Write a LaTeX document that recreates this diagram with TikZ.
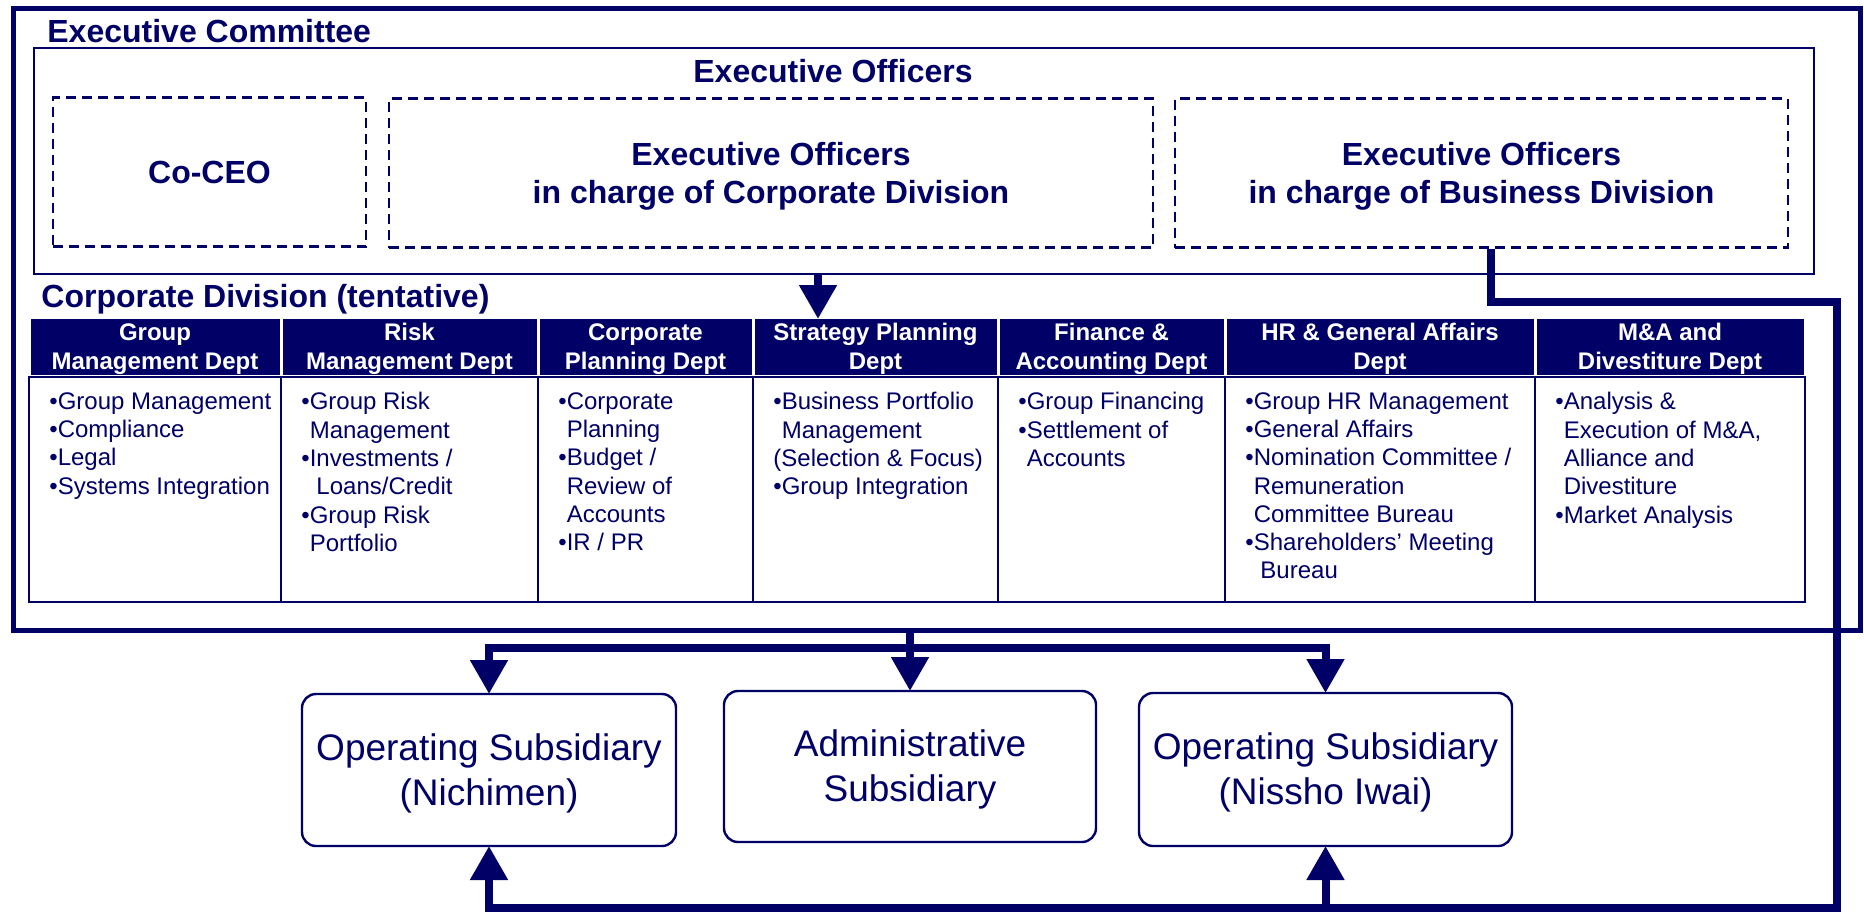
\documentclass[tikz,border=0pt]{standalone}
\usepackage{fontspec}
\setmainfont{Liberation Sans}
\usepackage{tikz}
\usetikzlibrary{arrows.meta,positioning}
\definecolor{navy}{RGB}{0,0,102}
\tikzstyle{outerbox}=[
	draw=navy,
	line width=2.5pt,
	inner sep=0pt,
	outer sep=0pt
]
\tikzstyle{innerbox}=[
	draw=navy,
	line width=1pt,
	inner sep=0pt,
	outer sep=0pt
]
\tikzstyle{heading}=[
	text=navy,
	inner sep=0pt,
	font=\bfseries\fontsize{16pt}{19pt}\selectfont
]
\tikzstyle{dashbox}=[
	heading,
	draw=navy,
	line width=1.1pt,
	dash pattern=on 5pt off 3pt,
	minimum height=74.5pt,
	align=center
]
\tikzstyle{depthead}=[
	fill=navy,
	text=white,
	inner sep=0pt,
	outer sep=0pt,
	minimum height=28pt,
	align=center,
	font=\bfseries\fontsize{12pt}{14.5pt}\selectfont
]
\tikzstyle{deptbody}=[
	draw=navy,
	line width=1.2pt,
	inner sep=0pt,
	outer sep=0pt,
	minimum height=112.5pt
]
\tikzstyle{deptlist}=[
	anchor=north west,
	text=navy,
	inner sep=0pt,
	align=left,
	font=\fontsize{12pt}{14.15pt}\selectfont
]
\tikzstyle{subbox}=[
	draw=navy,
	text=navy,
	line width=1.2pt,
	rounded corners=7pt,
	inner sep=0pt,
	outer sep=0pt,
	align=center,
	font=\fontsize{18.5pt}{22.5pt}\selectfont
]
\tikzstyle{wire}=[
	draw=navy,
	line width=4pt
]
\tikzstyle{link}=[
	wire,
	-{Triangle[length=17pt,width=18pt]}
]
\newcommand{\ind}{\phantom{•}}
% full line height for the first and last line of a centred box
\newcommand{\up}{\rule{0pt}{0.9em}}
\newcommand{\dn}{\rule[-0.21em]{0pt}{0pt}}

\begin{document}
\begin{tikzpicture}[x=0.5pt,y=-0.5pt]
\useasboundingbox (0,0) rectangle (1864,912);

% executive committee
\node[outerbox, minimum width=923.5pt, minimum height=311pt] (committee) at (936.5,319) {};
\node[heading, anchor=base west] (committeelabel) at (47,42) {Executive Committee};
\node[innerbox, minimum width=890pt, minimum height=113pt] (officers) at (924,161) {};
\node[heading, anchor=base] (officerslabel) at (833,82) {Executive Officers};
\node[dashbox, minimum width=156.5pt] (coceo) at (209.5,172) {\up Co-CEO\dn};
\node[dashbox, minimum width=382pt] (corpofficers) at (771,173) {\up Executive Officers\\in charge of Corporate Division\dn};
\node[dashbox, minimum width=306.5pt] (busofficers) at (1481.5,173) {\up Executive Officers\\in charge of Business Division\dn};

% corporate division
\node[heading, anchor=base west] (corplabel) at (41,307) {Corporate Division (tentative)};
\node[depthead, minimum width=124.5pt] (h1) at (155,347) {\up Group\\Management Dept\dn};
\node[depthead, minimum width=127pt, right=1.5pt of h1] (h2) {\up Risk\\Management Dept\dn};
\node[depthead, minimum width=106pt, right=1.5pt of h2] (h3) {\up Corporate\\Planning Dept\dn};
\node[depthead, minimum width=121pt, right=1.5pt of h3] (h4) {\up Strategy Planning\\Dept\dn};
\node[depthead, minimum width=112pt, right=1.5pt of h4] (h5) {\up Finance \&\\Accounting Dept\dn};
\node[depthead, minimum width=153.5pt, right=1.5pt of h5] (h6) {\up HR \& General Affairs\\Dept\dn};
\node[depthead, minimum width=133.5pt, right=1.5pt of h6] (h7) {\up M\&A and\\Divestiture Dept\dn};

\node[deptbody, minimum width=126pt, below=1pt of h1] (b1) {};
\node[deptbody, minimum width=128.5pt, below=1pt of h2] (b2) {};
\node[deptbody, minimum width=107.5pt, below=1pt of h3] (b3) {};
\node[deptbody, minimum width=122.5pt, below=1pt of h4] (b4) {};
\node[deptbody, minimum width=113.5pt, below=1pt of h5] (b5) {};
\node[deptbody, minimum width=155pt, below=1pt of h6] (b6) {};
\node[deptbody, minimum width=135pt, below=1pt of h7] (b7) {};

\node[deptlist] (l1) at ([shift={(20,15)}]b1.north west) {•Group Management\\•Compliance\\•Legal\\•Systems Integration};
\node[deptlist] (l2) at ([shift={(20,15)}]b2.north west) {•Group Risk\\\ind Management\\•Investments /\\\ind\ Loans/Credit\\•Group Risk\\\ind Portfolio};
\node[deptlist] (l3) at ([shift={(20,15)}]b3.north west) {•Corporate\\\ind Planning\\•Budget /\\\ind Review of\\\ind Accounts\\•IR / PR};
\node[deptlist] (l4) at ([shift={(20,15)}]b4.north west) {•Business Portfolio\\\ind Management\\(Selection \& Focus)\\•Group Integration};
\node[deptlist] (l5) at ([shift={(20,15)}]b5.north west) {•Group Financing\\•Settlement of\\\ind Accounts};
\node[deptlist] (l6) at ([shift={(20,15)}]b6.north west) {•Group HR Management\\•General Affairs\\•Nomination Committee /\\\ind Remuneration\\\ind Committee Bureau\\•Shareholders’ Meeting\\\ind\ Bureau};
\node[deptlist] (l7) at ([shift={(20,15)}]b7.north west) {•Analysis \&\\\ind Execution of M\&A,\\\ind Alliance and\\\ind Divestiture\\•Market Analysis};

% subsidiaries
\node[subbox, minimum width=187pt, minimum height=76pt] (nichimen) at (489,770) {\up Operating Subsidiary\\(Nichimen)\dn};
\node[subbox, minimum width=186pt, minimum height=75.5pt] (admin) at (910,766.5) {\up Administrative\\Subsidiary\dn};
\node[subbox, minimum width=186.5pt, minimum height=76.5pt] (nissho) at (1325.5,769.5) {\up Operating Subsidiary\\(Nissho Iwai)\dn};

% connectors
\coordinate (stratx) at (818,0);
\coordinate (busturn) at (1837,302);
\coordinate (buscorner) at (1837,908);
\coordinate (split) at (910,648);

\draw[link] (officers.south -| stratx) -- (h4.north -| stratx);
\draw[link] ([xshift=4.75pt]busofficers.south) |- (busturn) -- (buscorner) -| (nichimen.south);
\draw[link] (nissho.south |- buscorner) -- (nissho.south);
\draw[link] (committee.south -| admin.north) -- (admin.north);
\draw[link] (split) -| (nichimen.north);
\draw[link] (split) -| (nissho.north);

\end{tikzpicture}
\end{document}
